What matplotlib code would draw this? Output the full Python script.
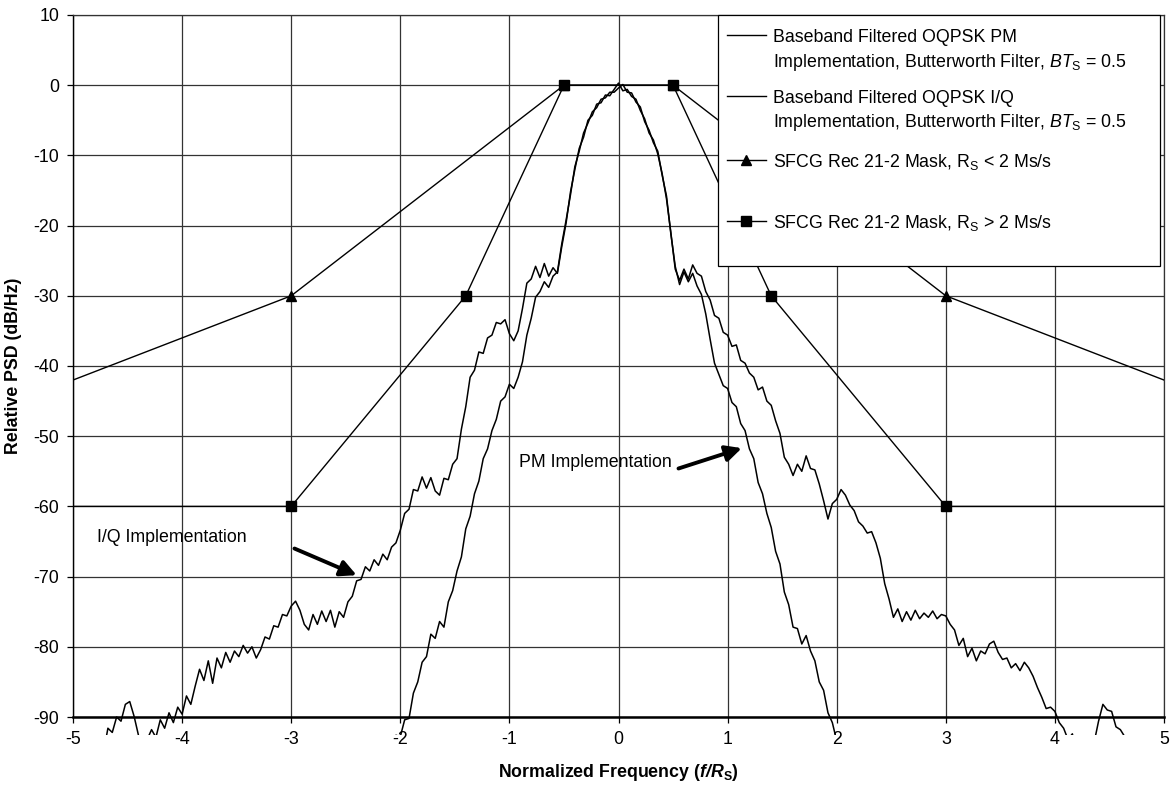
import numpy as np
import matplotlib.pyplot as plt
from matplotlib.patches import Rectangle
from matplotlib.lines import Line2D
from matplotlib.transforms import Bbox, TransformedBbox

plt.rcParams['font.family'] = ['Liberation Sans', 'DejaVu Sans']
plt.rcParams['font.size'] = 12.8
plt.rcParams['axes.unicode_minus'] = False
plt.rcParams['mathtext.fontset'] = 'custom'
plt.rcParams['mathtext.rm'] = 'Liberation Sans'
plt.rcParams['mathtext.it'] = 'Liberation Sans:italic'
plt.rcParams['mathtext.bf'] = 'Liberation Sans:bold'
plt.rcParams['mathtext.bfit'] = 'Liberation Sans:italic:bold'

# I/Q implementation PSD, sampled every 0.04 from -4.72 to 4.72 (dB/Hz)
iq_freq = np.round(np.arange(-4.72, 4.7201, 0.04), 2)
iq_psd = [
    # -4.72 .. -4.04
    -95.0, -91.6, -92.2, -90.0, -90.6, -88.2, -87.8, -89.9, -92.6, -95.0,
    -93.2, -91.8, -92.9, -90.4, -91.6, -89.4, -90.8, -88.6,
    # -4.00 .. -3.04
    -89.6, -87.0, -88.2, -85.6, -83.2, -84.8, -82.0, -85.2, -81.6, -83.0,
    -80.8, -82.2, -80.6, -81.4, -79.8, -80.9, -80.0, -81.6, -80.4, -78.6,
    -78.9, -77.0, -77.2, -75.4, -75.6,
    # -3.00 .. -2.04
    -74.2, -73.5, -74.8, -76.8, -77.6, -75.4, -76.8, -74.9, -76.4, -74.8,
    -77.2, -75.0, -75.8, -73.6, -72.8, -70.6, -70.4, -68.6, -69.2, -67.6,
    -68.4, -66.8, -67.6, -65.8, -65.2,
    # -2.00 .. -1.04
    -63.4, -61.0, -60.4, -57.6, -57.8, -55.8, -57.4, -55.9, -57.8, -58.4,
    -56.0, -56.2, -54.0, -53.2, -49.0, -45.8, -41.6, -40.6, -38.0, -38.2,
    -36.0, -35.6, -33.8, -34.0, -33.4,
    # -1.00 .. -0.04
    -35.4, -36.4, -35.0, -31.8, -28.2, -27.6, -25.8, -27.4, -25.4, -27.2,
    -26.0, -26.8, -23.0, -19.6, -15.2, -12.0, -9.0, -7.4, -5.0, -4.3,
    -2.7, -2.5, -1.4, -1.5, -0.6,
    # 0.00 .. 0.96
    0.3, -0.8, -0.6, -1.6, -2.0, -3.6, -4.8, -6.8, -7.8, -9.8,
    -12.6, -16.2, -21.0, -26.2, -27.8, -26.2, -27.6, -25.6, -26.8, -27.2,
    -29.4, -30.6, -32.8, -33.2, -35.2,
    # 1.00 .. 1.96
    -35.6, -37.2, -37.0, -39.2, -39.6, -41.0, -41.6, -43.4, -43.0, -45.0,
    -45.6, -47.8, -49.6, -53.0, -54.0, -55.6, -54.0, -55.0, -52.8, -54.6,
    -54.8, -56.8, -59.2, -61.8, -59.6,
    # 2.00 .. 2.96
    -59.0, -57.6, -58.4, -59.8, -60.6, -62.2, -62.8, -63.8, -63.6, -65.2,
    -67.4, -71.0, -73.2, -75.8, -74.6, -76.4, -75.0, -76.2, -74.8, -76.0,
    -75.2, -75.8, -74.9, -76.0, -75.4,
    # 3.00 .. 3.96
    -75.6, -76.8, -77.6, -79.8, -78.8, -81.4, -80.2, -82.0, -80.6, -81.0,
    -79.6, -79.2, -80.8, -81.8, -81.6, -83.0, -82.4, -83.4, -82.2, -83.0,
    -84.2, -85.8, -87.2, -88.8, -88.6,
    # 4.00 .. 4.72
    -89.2, -90.8, -91.6, -93.2, -92.4, -95.0, -95.0, -95.0, -95.0, -93.6,
    -90.6, -88.2, -89.0, -89.2, -91.4, -91.8, -92.8, -93.4, -95.0,
]

# PM implementation PSD, sampled every 0.04 from -2.08 to 2.00 (dB/Hz)
pm_freq = np.round(np.arange(-2.08, 2.0001, 0.04), 2)
pm_psd = [
    # -2.08 .. -2.04
    -95.0, -92.6,
    # -2.00 .. -1.04
    -92.8, -90.4, -90.2, -86.6, -85.0, -82.2, -81.4, -78.2, -78.8, -76.4,
    -77.2, -73.6, -72.0, -69.2, -67.2, -63.2, -61.4, -58.2, -56.4, -53.2,
    -51.8, -49.2, -47.6, -45.0, -44.4,
    # -1.00 .. -0.04
    -42.6, -43.2, -41.6, -39.4, -35.6, -33.2, -30.2, -29.4, -28.0, -28.8,
    -27.2, -26.6, -22.6, -19.2, -15.6, -11.6, -9.4, -6.8, -5.4, -3.8,
    -3.2, -2.0, -1.8, -1.0, -1.0,
    # 0.00 .. 0.96
    -0.4, 0.1, -1.0, -1.1, -2.4, -3.1, -5.2, -6.4, -8.2, -9.4,
    -12.8, -15.8, -21.2, -25.8, -28.4, -26.6, -28.0, -26.8, -28.6, -29.8,
    -32.6, -36.2, -39.6, -41.2, -42.8,
    # 1.00 .. 1.96
    -43.2, -45.2, -45.8, -48.2, -49.2, -51.8, -53.2, -56.6, -58.2, -61.0,
    -63.0, -66.4, -68.2, -72.2, -74.0, -77.2, -77.4, -79.6, -78.4, -80.6,
    -82.0, -85.0, -86.2, -89.4, -90.8,
    # 2.00
    -93.4,
]

# SFCG Rec 21-2 masks
mask_lo_f = [-5, -3, -0.5, 0.5, 3, 5]
mask_lo_db = [-42, -30, 0, 0, -30, -42]
mask_hi_f = [-5, -3, -1.4, -0.5, 0.5, 1.4, 3, 5]
mask_hi_db = [-60, -60, -30, 0, 0, -30, -60, -60]

fig = plt.figure(figsize=(11.7, 7.89), dpi=100)
ax = fig.add_axes([73 / 1170, 1 - 717 / 789, 1091 / 1170, 702 / 789])

ax.set_xlim(-5, 5)
ax.set_ylim(-90, 10)
ax.set_xticks(np.arange(-5, 6, 1))
ax.set_yticks(np.arange(-90, 11, 10))
ax.grid(True, color='#333333', lw=0.9)
ax.set_axisbelow(True)
for side in ['top', 'right']:
    ax.spines[side].set_color('#333333')
    ax.spines[side].set_linewidth(0.9)
ax.spines['left'].set_linewidth(1.0)
ax.spines['bottom'].set_linewidth(1.8)
ax.tick_params(direction='out', length=4, width=0.9, pad=6)
ax.tick_params(axis='x', pad=6)

# spectra are allowed to run a little below the -90 dB floor
floor_clip = TransformedBbox(Bbox([[-5, -92.5], [5, 10]]), ax.transData)
for f, p in [(pm_freq, pm_psd), (iq_freq, iq_psd)]:
    ln, = ax.plot(f, p, color='black', lw=1.1, zorder=3)
    ln.set_clip_box(floor_clip)

ax.plot(mask_lo_f, mask_lo_db, color='black', lw=1.0, marker='^', ms=7,
        markevery=[1, 2, 3, 4], zorder=4)
ax.plot(mask_hi_f, mask_hi_db, color='black', lw=1.0, marker='s', ms=7,
        markevery=[1, 2, 3, 4, 5, 6], zorder=4)

arrow = dict(arrowstyle='-|>', lw=2.8, color='black', mutation_scale=24,
             shrinkA=0, shrinkB=0)
ax.text(-4.78, -64.5, 'I/Q Implementation', ha='left', va='center')
ax.annotate('', xy=(-2.40, -69.8), xytext=(-2.97, -66.0), arrowprops=arrow)
ax.text(0.49, -53.8, 'PM Implementation', ha='right', va='center')
ax.annotate('', xy=(1.13, -51.7), xytext=(0.55, -54.6), arrowprops=arrow)

ax.set_xlabel(r'Normalized Frequency ($\mathbfit{f/R}_\mathbf{S}$)', fontweight='bold')
ax.xaxis.set_label_coords(0.5, -0.064)
ax.set_ylabel('Relative PSD (dB/Hz)', fontweight='bold')
ax.yaxis.set_label_coords(-0.047, 0.5)

# legend box
ax.add_patch(Rectangle((0.5912, 0.6425), 0.4051, 0.3575, transform=ax.transAxes,
                       facecolor='white', edgecolor='black', lw=0.9,
                       zorder=10, clip_on=False))
hx = [0.5994, 0.6352]
tx = 0.6416
entries = [
    (0.9715, None, [(0.9620, 'Baseband Filtered OQPSK PM'),
                    (0.9264, r'Implementation, Butterworth Filter, $\mathit{BT}_\mathrm{S}$ = 0.5')]),
    (0.8846, None, [(0.8751, 'Baseband Filtered OQPSK I/Q'),
                    (0.8409, r'Implementation, Butterworth Filter, $\mathit{BT}_\mathrm{S}$ = 0.5')]),
    (0.7934, '^', [(0.7839, r'SFCG Rec 21-2 Mask, R$_\mathrm{S}$ < 2 Ms/s')]),
    (0.7066, 's', [(0.6970, r'SFCG Rec 21-2 Mask, R$_\mathrm{S}$ > 2 Ms/s')]),
]
for hy, mk, lines in entries:
    ax.add_line(Line2D(hx, [hy, hy], color='black', lw=1.0, transform=ax.transAxes,
                       zorder=11, clip_on=False))
    if mk:
        ax.add_line(Line2D([sum(hx) / 2], [hy], marker=mk, ms=7, color='black',
                           transform=ax.transAxes, zorder=11, clip_on=False))
    for ty, s in lines:
        ax.text(tx, ty, s, transform=ax.transAxes, ha='left', va='baseline',
                zorder=12)

fig.savefig('out.png', dpi=100)
